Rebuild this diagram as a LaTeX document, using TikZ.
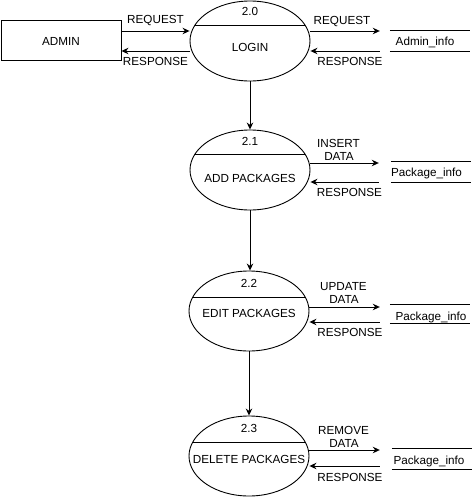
\documentclass[tikz,border=0pt]{standalone}
\usepackage{fontspec}
\setmainfont{Liberation Sans}
\usetikzlibrary{arrows.meta,calc,shapes.geometric}
\begin{document}
\begin{tikzpicture}[x=1pt,y=-1pt,
  txt/.style={font=\fontsize{11.7}{13}\selectfont, inner sep=0pt, text height=8.4pt, text depth=0pt},
  proc/.style={ellipse, draw, line width=0.9pt, minimum width=120pt, minimum height=80pt, inner sep=0pt},
  ext/.style={rectangle, draw, line width=0.9pt, minimum width=120pt, minimum height=40pt, inner sep=0pt},
  store/.style={rectangle, minimum width=80pt, minimum height=20pt, inner sep=0pt},
  flow/.style={line width=0.9pt, -{Stealth[length=7pt,width=6.5pt]}},
  thin/.style={line width=0.9pt}
]
\useasboundingbox (0,0) rectangle (474,498);

% external entity
\node[ext] (admin) at (61,40) {};
\node[txt] (admintxt) at (61,41) {ADMIN};

% processes
\node[proc] (p0) at (250,41) {};
\node[proc] (p1) at (250,170) {};
\node[proc] (p2) at (249,311) {};
\node[proc] (p3) at (249,456) {};

% dividing lines
\begin{scope}
  \clip (p0.center) ellipse [x radius=60pt, y radius=40pt];
  \draw[thin] ($(p0.center)+(-61,-16)$) -- ($(p0.center)+(61,-16)$);
\end{scope}
\begin{scope}
  \clip (p1.center) ellipse [x radius=60pt, y radius=40pt];
  \draw[thin] ($(p1.center)+(-61,-16)$) -- ($(p1.center)+(61,-16)$);
\end{scope}
\begin{scope}
  \clip (p2.center) ellipse [x radius=60pt, y radius=40pt];
  \draw[thin] ($(p2.center)+(-61,-14)$) -- ($(p2.center)+(61,-14)$);
\end{scope}
\begin{scope}
  \clip (p3.center) ellipse [x radius=60pt, y radius=40pt];
  \draw[thin] ($(p3.center)+(-61,-14)$) -- ($(p3.center)+(61,-14)$);
\end{scope}

% process texts
\node[txt] (n0) at (250,11) {2.0};
\node[txt] (t0) at (250,47) {LOGIN};
\node[txt] (n1) at (250,141) {2.1};
\node[txt] (t1) at (250,178) {ADD PACKAGES};
\node[txt] (n2) at (249,283) {2.2};
\node[txt] (t2) at (249,313) {EDIT PACKAGES};
\node[txt] (n3) at (249,428) {2.3};
\node[txt] (t3) at (249,459) {DELETE PACKAGES};

% data stores
\node[store] (s0) at (430,41) {};
\node[store] (s1) at (431,172) {};
\node[store, minimum height=18pt] (s2) at (430,314) {};
\node[store] (s3) at (432,459) {};
\foreach \s in {s0,s1,s2,s3}{
  \draw[thin] (\s.north west) -- (\s.north east);
  \draw[thin] (\s.south west) -- (\s.south east);
}
\node[txt] (st0) at (425,41) {Admin\_info};
\node[txt] (st1) at (426.5,172) {Package\_info};
\node[txt] (st2) at (431,316) {Package\_info};
\node[txt] (st3) at (429,460) {Package\_info};

% flows admin <-> login
\draw[flow] ([yshift=9pt]admin.east) -- ([yshift=10pt]p0.west);
\draw[flow] ([yshift=-10pt]p0.west) -- ([yshift=-11pt]admin.east);
\node[txt] (l1) at (155.5,19) {REQUEST};
\node[txt] (l2) at (155.5,61) {RESPONSE};

% login <-> admin_info
\draw[flow] ([yshift=10pt]p0.east) -- ([xshift=-10pt,yshift=10pt]s0.west);
\draw[flow] ([xshift=-10pt,yshift=-10pt]s0.west) -- ([yshift=-10pt]p0.east);
\node[txt] (l3) at (342,20) {REQUEST};
\node[txt] (l4) at (350,61) {RESPONSE};

% vertical flows
\draw[flow] (p0.south) -- (p0.south |- p1.north);
\draw[flow] (p1.south) -- (p1.south |- p2.north);
\draw[flow] (p2.south) -- (p2.south |- p3.north);

% 2.1 <-> store
\draw[flow] ([yshift=7pt]p1.east) -- ([xshift=-12pt,yshift=9pt]s1.west);
\draw[flow] ([xshift=-12pt,yshift=-10pt]s1.west) -- ([yshift=-12pt]p1.east);
\node[txt] (l5) at (338.5,143) {INSERT};
\node[txt] (l6) at (339,156) {DATA};
\node[txt] (l7) at (349.5,192) {RESPONSE};

% 2.2 <-> store
\draw[flow] ([yshift=4pt]p2.east) -- ([xshift=-10pt,yshift=7pt]s2.west);
\draw[flow] ([xshift=-10pt,yshift=-8pt]s2.west) -- ([yshift=-11pt]p2.east);
\node[txt] (l8) at (343.5,286) {UPDATE};
\node[txt] (l9) at (344,299) {DATA};
\node[txt] (l10) at (350,332) {RESPONSE};

% 2.3 <-> store
\draw[flow] ([yshift=6pt]p3.east) -- ([xshift=-12pt,yshift=9pt]s3.west);
\draw[flow] ([xshift=-12pt,yshift=-7pt]s3.west) -- ([yshift=-10pt]p3.east);
\node[txt] (l11) at (343.5,430) {REMOVE};
\node[txt] (l12) at (344,443) {DATA};
\node[txt] (l13) at (350,477) {RESPONSE};
\end{tikzpicture}
\end{document}
